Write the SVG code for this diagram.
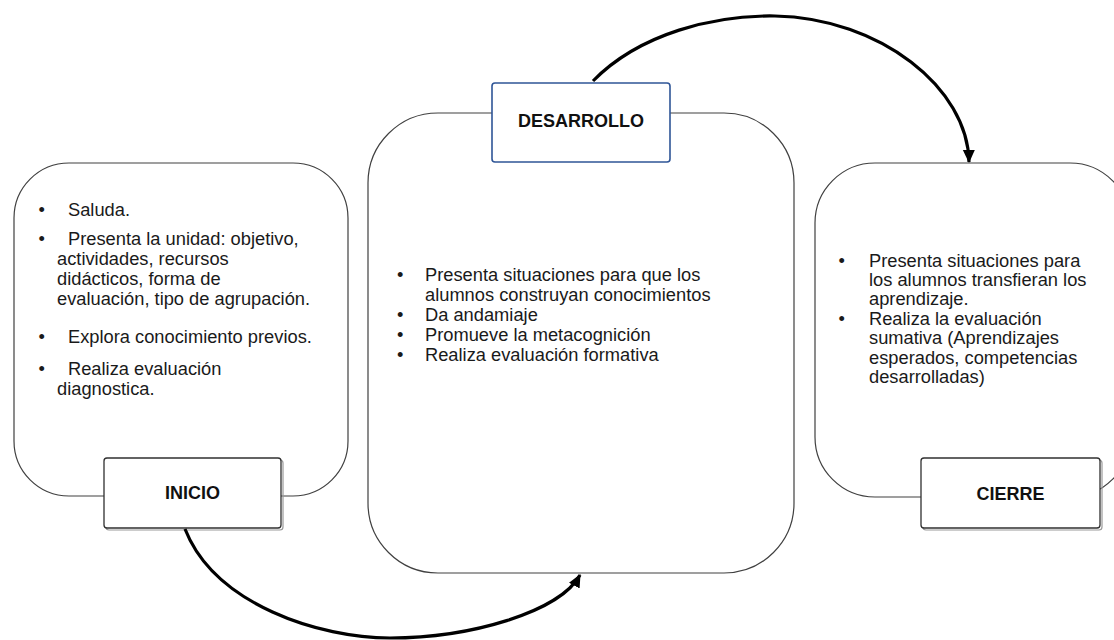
<svg xmlns="http://www.w3.org/2000/svg" width="1114" height="640" viewBox="0 0 1114 640">
<defs>
<style>
.panel{fill:#fff;stroke:#404040;stroke-width:1.2}
.lbl{fill:#fff;stroke:#303030;stroke-width:1.3}
.lblb{fill:#fff;stroke:#2f5597;stroke-width:1.6}
.shadow{fill:none;stroke:#9a9a9a;stroke-width:1.2}
.t{font-family:"Liberation Sans",Arial,sans-serif;font-size:18.3px;fill:#1a1a1a}
.h{font-family:"Liberation Sans",Arial,sans-serif;font-size:18px;font-weight:bold;fill:#111;text-anchor:middle}
.conn{fill:none;stroke:#000;stroke-width:3.2}
</style>
<marker id="ah" markerUnits="userSpaceOnUse" markerWidth="14" markerHeight="14" viewBox="0 0 14 14" refX="12" refY="7" orient="auto">
<path d="M0,1 L13,7 L0,13 Z" fill="#000"/>
</marker>
</defs>
<rect width="1114" height="640" fill="#fff"/>

<g id="inicio">
<rect class="panel" x="14" y="163" width="334" height="333" rx="55" ry="55"/>
<text class="t">
<tspan x="38.5" y="216">•</tspan><tspan x="68" y="216">Saluda.</tspan>
<tspan x="38.5" y="245">•</tspan><tspan x="68" y="245">Presenta la unidad: objetivo,</tspan>
<tspan x="57" y="265">actividades, recursos</tspan>
<tspan x="57" y="285">didácticos, forma de</tspan>
<tspan x="57" y="305">evaluación, tipo de agrupación.</tspan>
<tspan x="38.5" y="343">•</tspan><tspan x="68" y="343">Explora conocimiento previos.</tspan>
<tspan x="38.5" y="375">•</tspan><tspan x="68" y="375">Realiza evaluación</tspan>
<tspan x="57" y="395">diagnostica.</tspan>
</text>
<rect class="shadow" x="106" y="460" width="177" height="70" rx="3"/>
<rect class="lbl" x="104" y="458" width="177" height="70" rx="3"/>
<text class="h" x="192.5" y="499">INICIO</text>
</g>

<g id="desarrollo">
<rect class="panel" x="368" y="113" width="426" height="460" rx="70" ry="70"/>
<text class="t">
<tspan x="397" y="281">•</tspan><tspan x="425" y="281">Presenta situaciones para que los</tspan>
<tspan x="425" y="301">alumnos construyan conocimientos</tspan>
<tspan x="397" y="321">•</tspan><tspan x="425" y="321">Da andamiaje</tspan>
<tspan x="397" y="341">•</tspan><tspan x="425" y="341">Promueve la metacognición</tspan>
<tspan x="397" y="361">•</tspan><tspan x="425" y="361">Realiza evaluación formativa</tspan>
</text>
<rect class="lblb" x="492" y="83" width="178" height="79" rx="3"/>
<text class="h" x="581" y="127">DESARROLLO</text>
</g>

<g id="cierre">
<rect class="panel" x="815" y="163" width="315" height="334" rx="60" ry="60"/>
<text class="t">
<tspan x="838.5" y="267">•</tspan><tspan x="869" y="267">Presenta situaciones para</tspan>
<tspan x="869" y="286">los alumnos transfieran los</tspan>
<tspan x="869" y="305">aprendizaje.</tspan>
<tspan x="838.5" y="325">•</tspan><tspan x="869" y="325">Realiza la evaluación</tspan>
<tspan x="869" y="344">sumativa (Aprendizajes</tspan>
<tspan x="869" y="364">esperados, competencias</tspan>
<tspan x="869" y="383">desarrolladas)</tspan>
</text>
<rect class="shadow" x="923" y="460" width="179" height="70" rx="3"/>
<rect class="lbl" x="921" y="458" width="179" height="70" rx="3"/>
<text class="h" x="1010.5" y="500">CIERRE</text>
</g>

<g id="connectors">
<path class="conn" d="M185,529 C215,605 320,638 390,638 C470,638 560,612 580,575" marker-end="url(#ah)"/>
<path class="conn" d="M593,81 C640,33 715,15 775,16 C880,18 968,88 969,162" marker-end="url(#ah)"/>
</g>
</svg>
